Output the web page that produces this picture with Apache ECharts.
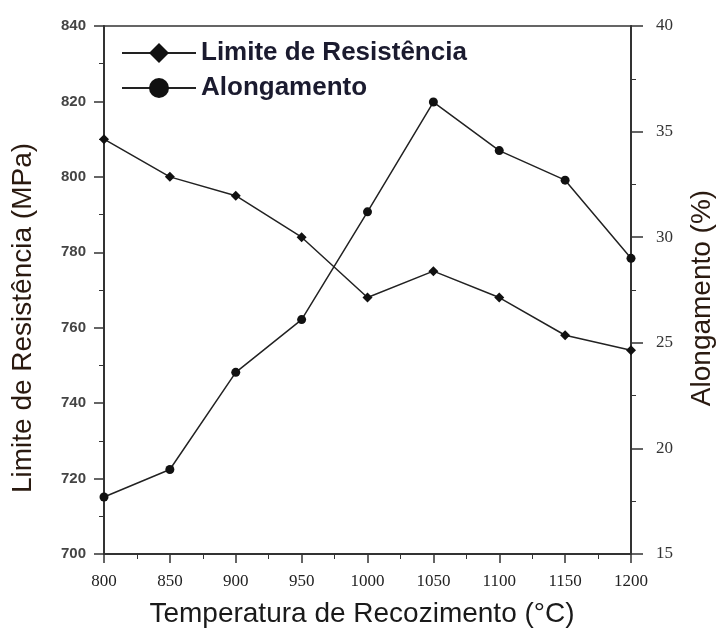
<!DOCTYPE html>
<html>
<head>
<meta charset="utf-8">
<script src="https://cdn.jsdelivr.net/npm/echarts@6/dist/echarts.min.js"></script>
<style>
  html, body { margin: 0; padding: 0; background: #fff; }
  #chart { width: 716px; height: 634px; }
</style>
</head>
<body>
<div id="chart"></div>
<script>
// temperaturas de recozimento (°C)
var temperaturas = [800, 850, 900, 950, 1000, 1050, 1100, 1150, 1200]
// limite de resistência (MPa), eixo esquerdo
var limiteResistencia = [810, 800, 795, 784, 768, 775, 768, 758, 754]
// alongamento (%), eixo direito
var alongamento = [17.7, 19.0, 23.6, 26.1, 31.2, 36.4, 34.1, 32.7, 29.0]

var chart = echarts.init(document.getElementById('chart'))

function pares (xs, ys) {
  return xs.map(function (x, i) { return [x, ys[i]] })
}

var corEixo = '#333'
var option = {
  backgroundColor: '#fff',
  animation: false,
  grid: {
    left: 104,
    right: 85,
    top: 26,
    bottom: 80,
    show: true,
    borderColor: corEixo,
    borderWidth: 1.5
  },
  legend: {
    left: 116,
    top: 35,
    orient: 'vertical',
    itemWidth: 74,
    itemHeight: 25,
    itemGap: 9,
    textStyle: {
      fontFamily: 'Liberation Sans',
      fontWeight: 'bold',
      fontSize: 26,
      color: '#1b1b2f'
    },
    data: ['Limite de Resistência', 'Alongamento']
  },
  xAxis: {
    type: 'value',
    min: 800,
    max: 1200,
    interval: 50,
    axisLine: { lineStyle: { color: corEixo, width: 2 } },
    axisTick: { length: 9, lineStyle: { color: corEixo, width: 1.5 } },
    minorTick: { show: true, splitNumber: 2, length: 5, lineStyle: { color: corEixo } },
    splitLine: { show: false },
    axisLabel: {
      margin: 19,
      fontFamily: 'Liberation Serif',
      fontSize: 17,
      color: '#222',
      formatter: function (v) { return String(v) }
    }
  },
  yAxis: [
    {
      type: 'value',
      min: 700,
      max: 840,
      interval: 20,
      axisLine: { show: true, lineStyle: { color: corEixo, width: 2 } },
      axisTick: { show: true, length: 10, lineStyle: { color: corEixo, width: 1.5 } },
      minorTick: { show: true, splitNumber: 2, length: 5, lineStyle: { color: corEixo } },
      splitLine: { show: false },
      axisLabel: {
        margin: 18,
        fontFamily: 'Liberation Sans',
        fontWeight: 'bold',
        fontSize: 15,
        color: '#444'
      }
    },
    {
      type: 'value',
      min: 15,
      max: 40,
      interval: 5,
      position: 'right',
      axisLine: { show: true, lineStyle: { color: corEixo, width: 2 } },
      axisTick: { show: true, length: 12, lineStyle: { color: corEixo, width: 1.5 } },
      minorTick: { show: true, splitNumber: 2, length: 5, lineStyle: { color: corEixo } },
      splitLine: { show: false },
      axisLabel: {
        margin: 25,
        fontFamily: 'Liberation Serif',
        fontSize: 17,
        color: '#333'
      }
    }
  ],
  graphic: [
    {
      type: 'text',
      x: 362,
      y: 614,
      style: {
        text: 'Temperatura de Recozimento (°C)',
        font: '28px "Liberation Sans"',
        fill: '#1a1a1a',
        align: 'center',
        verticalAlign: 'middle'
      }
    },
    {
      type: 'text',
      x: 23,
      y: 318,
      rotation: Math.PI / 2,
      style: {
        text: 'Limite de Resistência (MPa)',
        font: '28px "Liberation Sans"',
        fill: '#2a1a10',
        align: 'center',
        verticalAlign: 'middle'
      }
    },
    {
      type: 'text',
      x: 702,
      y: 298,
      rotation: Math.PI / 2,
      style: {
        text: 'Alongamento (%)',
        font: '28px "Liberation Sans"',
        fill: '#2a1a10',
        align: 'center',
        verticalAlign: 'middle'
      }
    }
  ],
  series: [
    {
      name: 'Limite de Resistência',
      type: 'line',
      yAxisIndex: 0,
      data: pares(temperaturas, limiteResistencia),
      symbol: 'diamond',
      symbolSize: 10,
      lineStyle: { color: '#222', width: 1.5 },
      itemStyle: { color: '#111' }
    },
    {
      name: 'Alongamento',
      type: 'line',
      yAxisIndex: 1,
      data: pares(temperaturas, alongamento),
      symbol: 'circle',
      symbolSize: 9,
      lineStyle: { color: '#222', width: 1.5 },
      itemStyle: { color: '#111' }
    }
  ]
}
chart.setOption(option)
</script>
</body>
</html>
